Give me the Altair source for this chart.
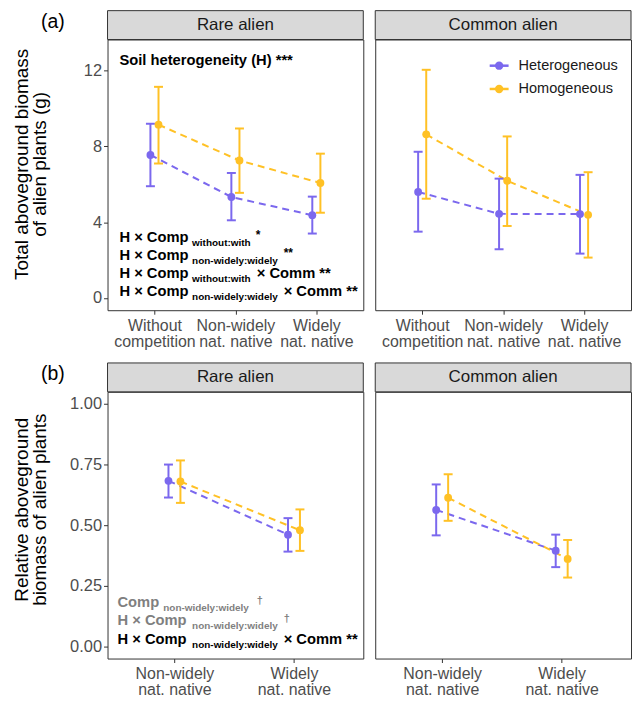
import altair as alt
import pandas as pd

# ---------------- data ----------------
groups = ["Heterogeneous", "Homogeneous"]
colors = ["#7B68EE", "#FFC125"]
aliens = ["Rare alien", "Common alien"]
tags = ["(a)", "(b)"]

comp_a_lines = [["Without", "competition"], ["Non-widely", "nat. native"], ["Widely", "nat. native"]]
comp_b_lines = [["Non-widely", "nat. native"], ["Widely", "nat. native"]]

# (a) total aboveground biomass (g): mean, lower, upper
a_rare_het_mean = [7.55, 5.33, 4.37]
a_rare_het_lo = [5.90, 4.10, 3.40]
a_rare_het_hi = [9.20, 6.60, 5.35]
a_rare_hom_mean = [9.15, 7.26, 6.07]
a_rare_hom_lo = [7.10, 5.55, 4.50]
a_rare_hom_hi = [11.15, 8.95, 7.62]

a_comm_het_mean = [5.60, 4.44, 4.43]
a_comm_het_lo = [3.50, 2.57, 2.34]
a_comm_het_hi = [7.72, 6.30, 6.50]
a_comm_hom_mean = [8.64, 6.19, 4.39]
a_comm_hom_lo = [5.24, 3.80, 2.13]
a_comm_hom_hi = [12.05, 8.53, 6.64]

# (b) relative aboveground biomass
b_rare_het_mean = [0.683, 0.461]
b_rare_het_lo = [0.614, 0.391]
b_rare_het_hi = [0.750, 0.529]
b_rare_hom_mean = [0.680, 0.479]
b_rare_hom_lo = [0.592, 0.394]
b_rare_hom_hi = [0.767, 0.565]

b_comm_het_mean = [0.563, 0.395]
b_comm_het_lo = [0.458, 0.327]
b_comm_het_hi = [0.668, 0.461]
b_comm_hom_mean = [0.613, 0.361]
b_comm_hom_lo = [0.518, 0.284]
b_comm_hom_hi = [0.710, 0.439]

a_yticks = [0, 4, 8, 12]
b_yticks = [0, 0.25, 0.5, 0.75, 1.0]

# ---------------- styles ----------------
FONT = "Liberation Sans, Arial, Helvetica, sans-serif"
BLACK = "#000000"
GREY = "#7f7f7f"
color_scale = alt.Scale(domain=groups, range=colors)
W = 257
STRIP = 29
MAIN = 14.8
SUB = 10


def make_df(het, hom):
    rows = []
    for g, (m, lo, hi) in zip(groups, [het, hom]):
        for i in range(len(m)):
            rows.append({"idx": i + 1, "group": g, "mean": m[i], "lo": lo[i], "hi": hi[i]})
    return pd.DataFrame(rows)


def label_expr(lines):
    arrs = ["[" + ", ".join("'%s'" % s for s in l) + "]" for l in lines]
    expr = arrs[-1]
    for v in range(len(arrs) - 1, 0, -1):
        expr = f"datum.value == {v} ? {arrs[v-1]} : ({expr})"
    return expr


def one(value):
    return alt.Chart(pd.DataFrame({"v": [value]}))


def panel(df, lines, xdom, ydom, yvals, yfmt, ytitle, title_y, alien, tag,
          annots, height, legend=False):
    n = len(lines)
    x_axis = alt.Axis(values=list(range(1, n + 1)), labelExpr=label_expr(lines), title=None,
                      grid=False, domain=False, ticks=True, tickSize=4, tickColor="#333333",
                      tickWidth=1, labelColor="#4d4d4d", labelFontSize=16, labelFont=FONT,
                      labelPadding=3, labelLineHeight=16, labelFlush=False, labelOverlap=False,
                      labelBound=False, labelAlign="center", labelBaseline="top")
    xenc = alt.X("xpos:Q", scale=alt.Scale(domain=xdom, nice=False, zero=False), axis=x_axis)
    if ytitle is not None:
        y_axis = alt.Axis(values=yvals, format=yfmt, title=ytitle, grid=False, domain=False,
                          tickSize=4, tickColor="#333333", labelColor="#4d4d4d",
                          labelFontSize=16.5, labelFont=FONT, labelPadding=2,
                          minExtent=47, maxExtent=47, titlePadding=11, titleFontSize=19,
                          titleFont=FONT, titleFontWeight="normal", titleColor=BLACK,
                          titleLineHeight=18, titleY=title_y)
    else:
        y_axis = None
    ysc = alt.Scale(domain=ydom, nice=False, zero=False)
    col = alt.Color("group:N", scale=color_scale, legend=None)
    base = alt.Chart(df).transform_calculate(
        xpos=f"datum.idx + (datum.group == '{groups[0]}' ? -0.05 : 0.05)")

    layers = []
    # strip
    layers.append(one(alien).mark_rect(fill="#d9d9d9", stroke="#333333", strokeWidth=1).encode(
        x=alt.value(0), x2=alt.value(W), y=alt.value(-STRIP), y2=alt.value(0)))
    layers.append(one(alien).mark_text(fontSize=17, font=FONT, color="#1a1a1a",
                                       align="center", baseline="middle").encode(
        x=alt.value(W / 2), y=alt.value(-STRIP / 2), text="v:N"))
    if tag:
        layers.append(one(tag).mark_text(fontSize=19.5, font=FONT, color=BLACK,
                                         align="center", baseline="middle").encode(
            x=alt.value(-55), y=alt.value(-18), text="v:N"))
    # data
    layers.append(base.mark_line(strokeWidth=2, strokeDash=[7, 5]).encode(
        x=xenc, y=alt.Y("mean:Q", scale=ysc, axis=y_axis), color=col, detail="group:N"))
    layers.append(base.mark_rule(strokeWidth=2).encode(
        x=xenc, y=alt.Y("lo:Q", scale=ysc, axis=y_axis), y2="hi:Q", color=col))
    for f in ["lo", "hi"]:
        layers.append(base.mark_tick(orient="horizontal", size=9, thickness=2, opacity=1).encode(
            x=xenc, y=alt.Y(f"{f}:Q", scale=ysc, axis=y_axis), color=col))
    layers.append(base.mark_circle(size=62, opacity=1).encode(
        x=xenc, y=alt.Y("mean:Q", scale=ysc, axis=y_axis), color=col))
    # annotations
    for (ax, ay, txt, sz, c) in annots:
        layers.append(one(txt).mark_text(fontSize=sz, font=FONT, fontWeight="bold", color=c,
                                         align="left", baseline="middle").encode(
            x=alt.value(ax), y=alt.value(ay), text="v:N"))
    if legend:
        for g, ly in zip(groups, [26.3, 49.7]):
            gd = alt.Chart(pd.DataFrame({"group": [g]}))
            layers.append(gd.mark_rule(strokeWidth=2.5).encode(
                x=alt.value(115), x2=alt.value(134), y=alt.value(ly),
                color=alt.Color("group:N", scale=color_scale, legend=None)))
            layers.append(gd.mark_circle(size=70, opacity=1).encode(
                x=alt.value(124.5), y=alt.value(ly),
                color=alt.Color("group:N", scale=color_scale, legend=None)))
            layers.append(gd.mark_text(fontSize=14.6, font=FONT, color="#1a1a1a",
                                       align="left", baseline="middle").encode(
                x=alt.value(144), y=alt.value(ly), text="group:N"))
    return alt.layer(*layers).properties(width=W, height=height)


annots_a = [
    (12, 21.3, "Soil heterogeneity (H) ***", MAIN, BLACK),
    (12, 199.5, "H × Comp", MAIN, BLACK),
    (85, 204.5, "without:with", SUB, BLACK),
    (149, 196.5, "*", 12, BLACK),
    (12, 217.7, "H × Comp", MAIN, BLACK),
    (85, 222.7, "non-widely:widely", SUB, BLACK),
    (177, 215, "**", 12, BLACK),
    (12, 236, "H × Comp", MAIN, BLACK),
    (85, 241, "without:with", SUB, BLACK),
    (150, 236, "× Comm **", MAIN, BLACK),
    (12, 254, "H × Comp", MAIN, BLACK),
    (85, 259, "non-widely:widely", SUB, BLACK),
    (177, 254, "× Comm **", MAIN, BLACK),
]
annots_b = [
    (10, 212.5, "Comp", MAIN, GREY),
    (56, 217.1, "non-widely:widely", SUB, GREY),
    (150, 210, "†", 11, GREY),
    (10, 230.5, "H × Comp", MAIN, GREY),
    (85, 235.1, "non-widely:widely", SUB, GREY),
    (177, 228, "†", 11, GREY),
    (10, 249.5, "H × Comp", MAIN, BLACK),
    (85, 254.1, "non-widely:widely", SUB, BLACK),
    (177, 249.5, "× Comm **", MAIN, BLACK),
]

A_DOM_X = [0.42, 3.58]
B_DOM_X = [0.44, 2.58]
A_DOM_Y = [-0.65, 13.65]
B_DOM_Y = [-0.05, 1.05]

pa1 = panel(make_df((a_rare_het_mean, a_rare_het_lo, a_rare_het_hi),
                    (a_rare_hom_mean, a_rare_hom_lo, a_rare_hom_hi)),
            comp_a_lines, A_DOM_X, A_DOM_Y, a_yticks, "d",
            ["Total aboveground biomass", "of alien plants (g)"], 125,
            aliens[0], tags[0], annots_a, 272)
pa2 = panel(make_df((a_comm_het_mean, a_comm_het_lo, a_comm_het_hi),
                    (a_comm_hom_mean, a_comm_hom_lo, a_comm_hom_hi)),
            comp_a_lines, A_DOM_X, A_DOM_Y, a_yticks, "d", None, 0,
            aliens[1], None, [], 272, legend=True)
pb1 = panel(make_df((b_rare_het_mean, b_rare_het_lo, b_rare_het_hi),
                    (b_rare_hom_mean, b_rare_hom_lo, b_rare_hom_hi)),
            comp_b_lines, B_DOM_X, B_DOM_Y, b_yticks, ".2f",
            ["Relative aboveground", "biomass of alien plants"], 118,
            aliens[0], tags[1], annots_b, 268)
pb2 = panel(make_df((b_comm_het_mean, b_comm_het_lo, b_comm_het_hi),
                    (b_comm_hom_mean, b_comm_hom_lo, b_comm_hom_hi)),
            comp_b_lines, B_DOM_X, B_DOM_Y, b_yticks, ".2f", None, 0,
            aliens[1], None, [], 268)

top = alt.hconcat(pa1, pa2, spacing=10)
bottom = alt.hconcat(pb1, pb2, spacing=10)
chart = alt.vconcat(top, bottom, spacing=12).properties(
    padding={"left": 4, "top": 0, "right": 0, "bottom": 0},
    background="white",
).configure_view(stroke="#333333", strokeWidth=1)

chart.save("out.html", embed_options={"renderer": "svg", "actions": False})
